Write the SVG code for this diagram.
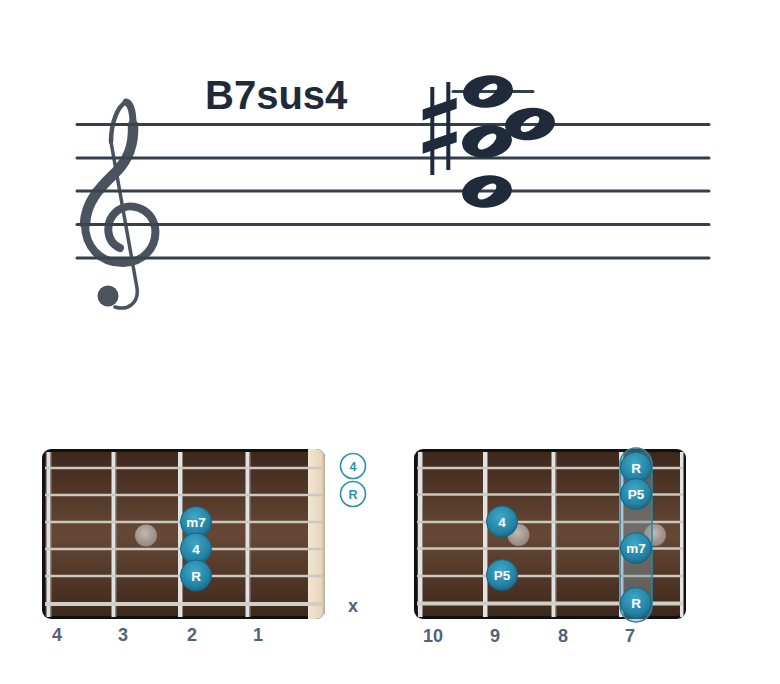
<svg xmlns="http://www.w3.org/2000/svg" width="780" height="684" viewBox="0 0 780 684">
<defs>
<style>
.staff{stroke:#353f4b;stroke-width:3;stroke-linecap:round}
.note{fill:#1f2b3a;fill-rule:evenodd}
.clef{fill:none;stroke:#3b4551;stroke-linecap:round;stroke-linejoin:round}
.title{font-family:"Liberation Sans",Arial,sans-serif;font-weight:bold;font-size:40px;fill:#1f2b3a}
.fret{fill:#e2e2e2}
.fretsh{fill:#8a8580}
.str{stroke:#cbc7c1;stroke-width:2.5}
.str6{stroke:#d2cec8;stroke-width:4}
.dot{fill:url(#dotg);stroke:#166580;stroke-width:1}
.dtx{font-family:"Liberation Sans",Arial,sans-serif;font-weight:bold;font-size:13.5px;fill:#ffffff;text-anchor:middle}
.gray{fill:url(#grayg)}
.lbl{font-family:"Liberation Sans",Arial,sans-serif;font-weight:bold;font-size:18px;fill:#52627a;text-anchor:middle}
.open{fill:#ffffff;stroke:#2f8fb3;stroke-width:1.6}
.otx{font-family:"Liberation Sans",Arial,sans-serif;font-weight:bold;font-size:12.5px;fill:#2f8fb3;text-anchor:middle}
</style>
<linearGradient id="wood" x1="0" y1="0" x2="0" y2="1">
<stop offset="0" stop-color="#3d281c"/>
<stop offset="0.5" stop-color="#674835"/>
<stop offset="1" stop-color="#3d281c"/>
</linearGradient>
<linearGradient id="nut" x1="0" y1="0" x2="1" y2="0">
<stop offset="0" stop-color="#f2e6d2"/>
<stop offset="0.8" stop-color="#e6d5bb"/>
<stop offset="1" stop-color="#b8ab98"/>
</linearGradient>
<radialGradient id="dotg" cx="0.45" cy="0.35" r="0.7">
<stop offset="0" stop-color="#3fa8c8"/>
<stop offset="0.7" stop-color="#2382a4"/>
<stop offset="1" stop-color="#17617d"/>
</radialGradient>
<radialGradient id="grayg" cx="0.45" cy="0.4" r="0.65">
<stop offset="0" stop-color="#c2b9b2"/>
<stop offset="1" stop-color="#8e827a"/>
</radialGradient>
<path id="wn" d="M24.81,-3.06 A25 16 -7 1 0 -24.81,3.06 A25 16 -7 1 0 24.81,-3.06 Z M8.67,-6.77 A11 5.4 -38 1 0 -8.67,6.77 A11 5.4 -38 1 0 8.67,-6.77 Z"/>
</defs>
<rect width="780" height="684" fill="#ffffff"/>

<g id="staff">
<line class="staff" x1="77" y1="124.5" x2="709" y2="124.5"/>
<line class="staff" x1="77" y1="158" x2="709" y2="158"/>
<line class="staff" x1="77" y1="191" x2="709" y2="191"/>
<line class="staff" x1="77" y1="224.5" x2="709" y2="224.5"/>
<line class="staff" x1="77" y1="258" x2="709" y2="258"/>
<line class="staff" x1="453" y1="91.5" x2="533" y2="91.5"/>
</g>

<g id="clef" opacity="0.92">
<path class="clef" stroke-width="8" d="M120,248 C106,242 104,222 117,211 C130,201 151,208 155,227 C158,248 142,263 123,263 C100,263 85,247 85,224"/>
<path class="clef" stroke-width="10.5" d="M85,224 C86,200 102,186 116,172 C128,160 134,146 133,125"/>
<path class="clef" stroke-width="7" d="M133,125 C133,110 130,103 126,102"/>
<path class="clef" stroke-width="4.5" d="M126,102 C118,106 111,122 111,142"/>
<path class="clef" stroke-width="3.5" d="M111,142 L137,288 C139,303 128,311 115,307"/>
<circle cx="108" cy="296" r="10.5" fill="#3b4551"/>
</g>

<text class="title" x="205" y="109">B7sus4</text>

<g id="chord-notes">
<g id="sharp" fill="#1f2b3a">
<rect x="430.3" y="87" width="4" height="88"/>
<rect x="446.3" y="82" width="4" height="88"/>
<polygon points="422.7,109.5 456.7,97.8 456.7,108.8 422.7,120.5"/>
<polygon points="422.7,142.8 456.7,131.2 456.7,142.2 422.7,153.8"/>
</g>
<use href="#wn" class="note" x="488" y="91.5"/>
<use href="#wn" class="note" x="530" y="124"/>
<use href="#wn" class="note" x="487" y="141.5"/>
<use href="#wn" class="note" x="487" y="191.5"/>
</g>

<g id="fretboard-left">
<clipPath id="clipL"><rect x="42" y="449" width="283" height="170" rx="9"/></clipPath>
<g clip-path="url(#clipL)">
<rect x="42" y="449" width="283" height="170" fill="#111111"/>
<rect x="45" y="452" width="264" height="164" fill="url(#wood)"/>
<rect x="308" y="449" width="17" height="170" fill="url(#nut)"/>
</g>
<rect x="46.5" y="452" width="4" height="165" class="fret"/><rect x="50.5" y="452" width="1" height="165" class="fretsh"/>
<rect x="111.5" y="452" width="4" height="165" class="fret"/><rect x="115.5" y="452" width="1" height="165" class="fretsh"/>
<rect x="178" y="452" width="4" height="165" class="fret"/><rect x="182" y="452" width="1" height="165" class="fretsh"/>
<rect x="245.5" y="452" width="4" height="165" class="fret"/><rect x="249.5" y="452" width="1" height="165" class="fretsh"/>
<line class="str" x1="45" y1="468" x2="323" y2="468"/>
<line class="str" x1="45" y1="495" x2="323" y2="495"/>
<line class="str" x1="45" y1="522" x2="323" y2="522"/>
<line class="str" x1="45" y1="549" x2="323" y2="549"/>
<line class="str" x1="45" y1="576" x2="323" y2="576"/>
<line class="str6" x1="45" y1="604" x2="323" y2="604"/>
<circle class="gray" cx="146" cy="535.5" r="11"/>
<g id="dotL-m7"><circle class="dot" cx="196" cy="522" r="15.5"/><text class="dtx" x="196" y="527">m7</text></g>
<g id="dotL-4"><circle class="dot" cx="196" cy="548.5" r="15.5"/><text class="dtx" x="196" y="553.5">4</text></g>
<g id="dotL-R"><circle class="dot" cx="196" cy="575.5" r="15.5"/><text class="dtx" x="196" y="580.5">R</text></g>
<g id="openL-4"><circle class="open" cx="353" cy="466" r="12.5"/><text class="otx" x="353" y="470.5">4</text></g>
<g id="openL-R"><circle class="open" cx="353" cy="494" r="12.5"/><text class="otx" x="353" y="498.5">R</text></g>
<text class="lbl" x="353" y="612">x</text>
<text class="lbl" x="57" y="641">4</text>
<text class="lbl" x="123" y="641">3</text>
<text class="lbl" x="192" y="641">2</text>
<text class="lbl" x="258" y="641">1</text>
</g>

<g id="fretboard-right">
<rect x="414" y="449" width="272" height="170" rx="9" fill="#111111"/>
<rect x="417" y="452" width="266" height="164" rx="6" fill="url(#wood)"/>
<rect x="418" y="452" width="4" height="165" class="fret"/><rect x="422" y="452" width="1" height="165" class="fretsh"/>
<rect x="483" y="452" width="4" height="165" class="fret"/><rect x="487" y="452" width="1" height="165" class="fretsh"/>
<rect x="551.5" y="452" width="4" height="165" class="fret"/><rect x="555.5" y="452" width="1" height="165" class="fretsh"/>
<rect x="619" y="452" width="4" height="165" class="fret"/><rect x="623" y="452" width="1" height="165" class="fretsh"/>
<rect x="680" y="452" width="3.5" height="165" class="fret"/>
<line class="str" x1="417" y1="468" x2="683" y2="468"/>
<line class="str" x1="417" y1="494.5" x2="683" y2="494.5"/>
<line class="str" x1="417" y1="522" x2="683" y2="522"/>
<line class="str" x1="417" y1="548.5" x2="683" y2="548.5"/>
<line class="str" x1="417" y1="576" x2="683" y2="576"/>
<line class="str6" x1="417" y1="603.5" x2="683" y2="603.5"/>
<circle class="gray" cx="518.5" cy="535" r="11"/>
<circle class="gray" cx="655" cy="535" r="11"/>
<g id="dotR-4"><circle class="dot" cx="502" cy="521.5" r="15.5"/><text class="dtx" x="502" y="526.5">4</text></g>
<g id="dotR-P5"><circle class="dot" cx="502" cy="575" r="15.5"/><text class="dtx" x="502" y="580">P5</text></g>
<g id="barre">
<rect x="620" y="448" width="32" height="174" rx="16" fill="#7e9aa3" fill-opacity="0.45" stroke="#2a87a6" stroke-width="1.5"/>
<g id="dotR-R1"><circle class="dot" cx="636" cy="467.5" r="15.5"/><text class="dtx" x="636" y="472.5">R</text></g>
<g id="dotR-P5b"><circle class="dot" cx="636" cy="494" r="15.5"/><text class="dtx" x="636" y="499">P5</text></g>
<g id="dotR-m7"><circle class="dot" cx="636" cy="548" r="15.5"/><text class="dtx" x="636" y="553">m7</text></g>
<g id="dotR-R2"><circle class="dot" cx="636" cy="603" r="15.5"/><text class="dtx" x="636" y="608">R</text></g>
</g>
<text class="lbl" x="433" y="642">10</text>
<text class="lbl" x="495" y="642">9</text>
<text class="lbl" x="563" y="642">8</text>
<text class="lbl" x="630" y="642">7</text>
</g>
</svg>
